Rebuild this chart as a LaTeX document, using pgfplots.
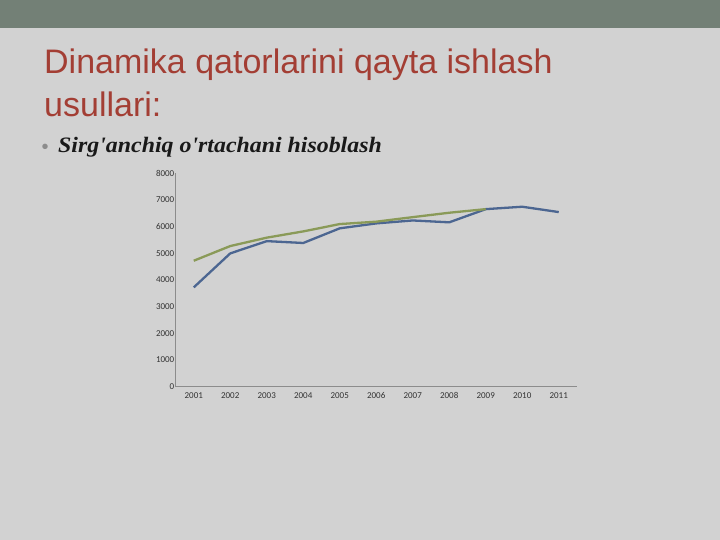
\documentclass[border=0pt]{standalone}
\usepackage{pgfplots}
\pgfplotsset{compat=1.18}
\usepackage{fontspec}
\setmainfont{Liberation Sans}
\newfontfamily\tickfont{Carlito}
\newfontfamily\serifbi{Liberation Serif}
\definecolor{slidebg}{RGB}{210,210,210}
\definecolor{topbar}{RGB}{115,128,118}
\definecolor{titlecol}{RGB}{163,62,52}
\definecolor{serblue}{RGB}{76,102,145}
\definecolor{sergreen}{RGB}{138,154,88}
\definecolor{axisgray}{RGB}{140,140,140}
\pgfplotstableread{
year actual
2001 3725
2002 5000
2003 5460
2004 5390
2005 5940
2006 6125
2007 6235
2008 6165
2009 6660
2010 6750
2011 6550
}\actualdata
\pgfplotstableread{
year avg
2001 4725
2002 5275
2003 5590
2004 5825
2005 6100
2006 6190
2007 6360
2008 6525
2009 6660
}\avgdata
\begin{document}
\begin{tikzpicture}
\fill[slidebg] (0pt,0pt) rectangle (720pt,-540pt);
\fill[topbar] (0pt,0pt) rectangle (720pt,-28pt);
\node[anchor=base west, inner sep=0pt, text=titlecol, font=\fontsize{34}{40}\selectfont] at (44pt,-73.5pt) {Dinamika qatorlarini qayta ishlash};
\node[anchor=base west, inner sep=0pt, text=titlecol, font=\fontsize{34}{40}\selectfont] at (44pt,-116.5pt) {usullari:};
\node[anchor=base west, inner sep=0pt, text=black!45, font=\fontsize{20}{24}\selectfont] at (41.5pt,-154pt) {\textbullet};
\node[anchor=base west, inner sep=0pt, text=black!90, font=\serifbi\bfseries\itshape\fontsize{22}{24}\selectfont] at (58pt,-153pt) {\scalebox{1.085}[1]{Sirg'anchiq o'rtachani hisoblash}};
\begin{axis}[
  at={(175.5pt,-386.7pt)}, anchor=south west,
  scale only axis, width=401.5pt, height=213.3pt,
  xmin=2000.5, xmax=2011.5, ymin=0, ymax=8000,
  axis lines=left, axis line style={-, draw=axisgray, line width=0.8pt},
  xtick={2001,...,2011}, ytick={0,1000,...,8000},
  major tick length=0pt,
  /pgf/number format/assume math mode=true,
  /pgf/number format/set thousands separator={},
  tick label style={font=\tickfont\fontsize{9}{10}\selectfont, text=black!80},
  yticklabel style={inner sep=1pt},
  xticklabel style={inner sep=1pt, yshift=-4.5pt},
  clip=false,
]
\addplot[serblue, line width=2.3pt, line join=round] table[x=year, y=actual] {\actualdata};
\addplot[sergreen, line width=2.3pt, line join=round] table[x=year, y=avg] {\avgdata};
\end{axis}
\end{tikzpicture}
\end{document}
